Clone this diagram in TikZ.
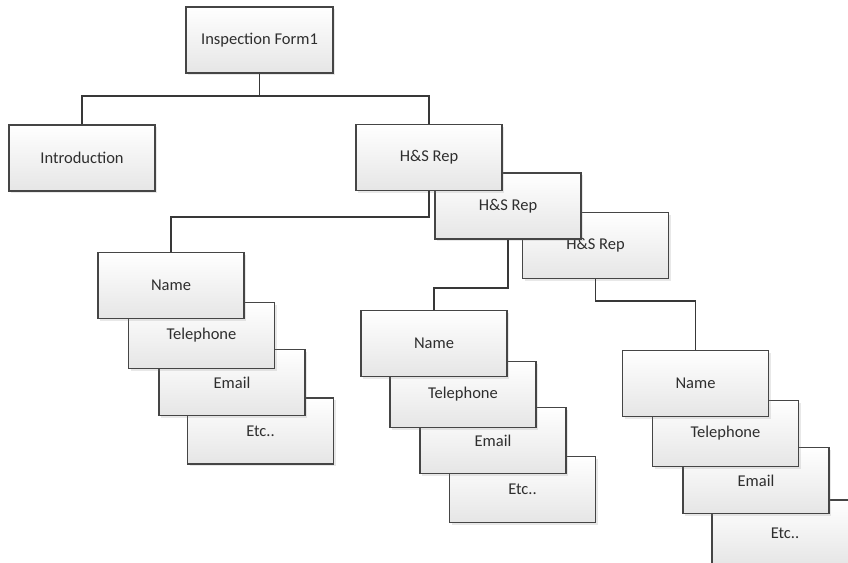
\documentclass[tikz,border=0pt]{standalone}
\usepackage{fontspec}
\setmainfont{Carlito}
\usetikzlibrary{shadows}
\definecolor{edge}{HTML}{454545}
\definecolor{wire}{HTML}{383838}
\definecolor{ink}{HTML}{2E2E2E}
\tikzset{
  card/.style={draw=edge, line width=1.3pt, top color=white, bottom color=black!10,
    minimum width=146pt, minimum height=66pt, inner sep=0pt,
    font=\fontsize{16.5}{18}\selectfont, text=ink,
    drop shadow={shadow xshift=2pt, shadow yshift=-2pt, opacity=0.18}},
  wirestyle/.style={draw=wire, line width=1.8pt}
}
\begin{document}
\begin{tikzpicture}[x=1pt, y=-1pt]
\clip (0,0) rectangle (848,562);
\fill[white] (0,0) rectangle (848,562);

% junction points of the elbow connectors
\coordinate (bus) at (259.5,96);
\coordinate (j1) at (429,217);
\coordinate (j2) at (508,288);
\coordinate (j3) at (595.5,301);

% boxes at the bottom of each stack first, so the upper ones overlap them
\node[card] (etc3)   at (785,533)     {Etc..};
\node[card] (email3) at (756,480.5)   {Email};
\node[card] (tel3)   at (725.5,433.5) {Telephone};

\node[card] (etc2)   at (522.5,489.5) {Etc..};
\node[card] (email2) at (493,440.5)   {Email};
\node[card] (tel2)   at (463,394.5)   {Telephone};

\node[card] (etc1)   at (260.5,431)   {Etc..};
\node[card] (email1) at (232,382.5)   {Email};
\node[card] (tel1)   at (201.5,335.5) {Telephone};

\node[card] (name3)  at (695.5,383.5) {Name};
\node[card] (name2)  at (434,343.5)   {Name};
\node[card] (name1)  at (171,285.5)   {Name};

\node[card] (hs3)    at (595.5,245.5) {H\&S Rep};
\node[card] (hs2)    at (508,206)     {H\&S Rep};
\node[card] (hs1)    at (429,157.5)   {H\&S Rep};

\node[card] (intro)  at (82,158)      {Introduction};
\node[card, minimum width=147pt] (form) at (259.5,40) {Inspection Form1};

% connectors
\draw[wirestyle] (form.south) -- (bus);
\draw[wirestyle] (intro.north) |- (bus) -| (hs1.north);
\draw[wirestyle] (hs1.south) -- (j1) -| (name1.north);
\draw[wirestyle] (hs2.south) -- (j2) -| (name2.north);
\draw[wirestyle] (hs3.south) -- (j3) -| (name3.north);
\end{tikzpicture}
\end{document}
